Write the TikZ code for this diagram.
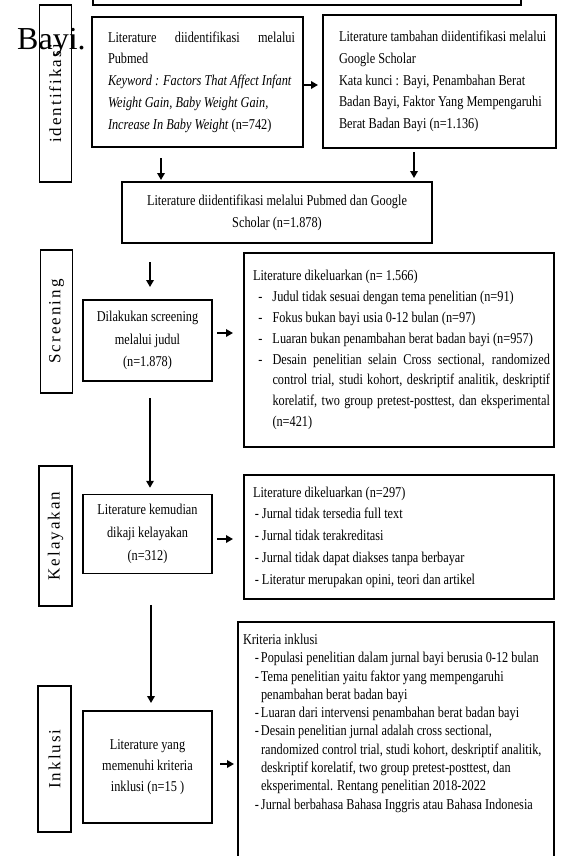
\documentclass[tikz,border=0pt]{standalone}
\usepackage{fontspec}
\setmainfont{Liberation Serif}
\newfontfamily\narrowfont{Liberation Serif}[FakeStretch=0.82]
\newfontfamily\tagfont{Liberation Serif}[LetterSpace=12]
\usetikzlibrary{arrows.meta}
\setlength\parindent{0pt}
\tolerance=10000
\hbadness=10000
\hyphenpenalty=10000
\exhyphenpenalty=10000
\newcommand\itm[3][2pt]{\par\hangindent=#2\hangafter=0\noindent\llap{-\hspace{#1}}#3\par}

\begin{document}
\begin{tikzpicture}[x=1pt,y=-1pt,
    box/.style={draw,line width=1.3pt,inner sep=0pt,outer sep=0pt,lead=21.5},
    lead/.style={font=\narrowfont\fontsize{15}{#1}\selectfont},
    tag/.style={draw,line width=1.3pt,inner sep=0pt,outer sep=0pt,rotate=90,
      font=\tagfont\fontsize{17}{20}\selectfont},
    lpad/.style={execute at begin node={\leftskip=#1\relax}},
    arr/.style={line width=2.2pt,-{Triangle[length=7pt,width=7.5pt]}}]
    \path[fill=white,use as bounding box] (0,0) rectangle (581,856);

    \path
    (307,-20) node[box,minimum width=428pt,minimum height=50pt] (Top) {}
    (55.2,93.5) node[tag,minimum width=177pt,minimum height=32pt] (TagId) {identifikasi}
    (56.5,321.5) node[tag,minimum width=143pt,minimum height=31.6pt] (TagScr) {Screening}
    (55.5,536) node[tag,minimum width=140pt,minimum height=33pt] (TagKel) {Kelayakan}
    (54.5,759) node[tag,minimum width=146pt,minimum height=33pt] (TagInk) {Inklusi}
    ;
    \node[font=\fontsize{32}{32}\selectfont,anchor=base west,inner sep=0pt] (Bayi) at (17,50) {Bayi.};

    \path
    (197.5,82) node[box,minimum width=211pt,minimum height=130pt,text width=195pt,
      align=justify,lpad=8pt,lead=21.7] (Pub)
    {Literature diidentifikasi melalui\linebreak Pubmed\newline
     \textit{Keyword : Factors That Affect Infant}\newline
     \textit{Weight Gain, Baby Weight Gain,}\newline
     \textit{Increase In Baby Weight} (n=742)}
    (439.5,81.5) node[box,minimum width=233pt,minimum height=133pt,text width=225pt,
      align=flush left,lpad=12pt,lead=21.7] (Sch)
    {Literature tambahan diidentifikasi melalui\\ Google Scholar\\
     Kata kunci : Bayi, Penambahan Berat\\ Badan Bayi, Faktor Yang Mempengaruhi\\
     Berat Badan Bayi (n=1.136)}
    (277,212.5) node[box,minimum width=310pt,minimum height=61pt,align=center,lead=22] (Comb)
    {Literature diidentifikasi melalui Pubmed dan Google\\ Scholar (n=1.878)}
    ;

    \path
    (147.5,340.5) node[box,minimum width=129pt,minimum height=81pt,align=center,lead=22.3] (Scr)
    {Dilakukan screening\\ melalui judul\\ (n=1.878)}
    (399,350) node[box,minimum width=310pt,minimum height=194pt,text width=302pt,
      align=justify,lpad=5pt,lead=20.8] (Exc1)
    {Literature dikeluarkan (n= 1.566)
     \itm[10pt]{19.5pt}{Judul tidak sesuai dengan tema penelitian (n=91)}
     \itm[10pt]{19.5pt}{Fokus bukan bayi usia 0-12 bulan (n=97)}
     \itm[10pt]{19.5pt}{Luaran bukan penambahan berat badan bayi (n=957)}
     \itm[10pt]{19.5pt}{Desain penelitian selain Cross sectional, randomized\linebreak
       control trial, studi kohort, deskriptif analitik, deskriptif\linebreak
       korelatif, two group pretest-posttest, dan eksperimental\linebreak (n=421)}}
    ;

    \path
    (147.5,534) node[box,minimum width=129pt,minimum height=78.5pt,align=center,lead=23] (Kel)
    {Literature kemudian\\ dikaji kelayakan\\ (n=312)}
    (399,537) node[box,minimum width=310pt,minimum height=124pt,text width=302pt,
      align=flush left,lpad=5pt,lead=21.7] (Exc2)
    {Literature dikeluarkan (n=297)
     \itm[3pt]{9pt}{Jurnal tidak tersedia full text}
     \itm[3pt]{9pt}{Jurnal tidak terakreditasi}
     \itm[3pt]{9pt}{Jurnal tidak dapat diakses tanpa berbayar}
     \itm[3pt]{9pt}{Literatur merupakan opini, teori dan artikel}}
    ;

    \path
    (147.5,767) node[box,minimum width=129pt,minimum height=112pt,align=center,lead=20.7] (Ink)
    {Literature yang\\ memenuhi kriteria\\ inklusi (n=15 )}
    (238,622) node[box,anchor=north west,minimum width=316pt,text width=306pt,
      inner xsep=5pt,inner ysep=12pt,align=flush left,lead=18.3] (Krit)
    {Kriteria inklusi
     \itm{18pt}{Populasi penelitian dalam jurnal bayi berusia 0-12 bulan}
     \itm{18pt}{Tema penelitian yaitu faktor yang mempengaruhi\newline
       penambahan berat badan bayi}
     \itm{18pt}{Luaran dari intervensi penambahan berat badan bayi}
     \itm{18pt}{Desain penelitian jurnal adalah cross sectional,\newline
       randomized control trial, studi kohort, deskriptif analitik,\newline
       deskriptif korelatif, two group pretest-posttest, dan\newline
       eksperimental. Rentang penelitian 2018-2022}
     \itm{18pt}{Jurnal berbahasa Bahasa Inggris atau Bahasa Indonesia\rule[-60pt]{0pt}{1pt}}}
    ;

    \draw[arr,shorten >=5pt] ([yshift=-3pt]Pub.east) -- ([yshift=-3pt]Pub.east -| Sch.west);
    \draw[arr,shorten <=11pt,shorten >=2pt] ([xshift=-36.5pt]Pub.south) -- ([xshift=-36.5pt]Pub.south |- Comb.north);
    \draw[arr,shorten <=4pt,shorten >=4pt] ([xshift=-25.5pt]Sch.south) -- ([xshift=-25.5pt]Sch.south |- Comb.north);
    \draw[arr,shorten <=19pt,shorten >=13pt] ([xshift=2.5pt]Scr.north |- Comb.south) -- ([xshift=2.5pt]Scr.north);
    \draw[arr,shorten <=5pt,shorten >=11pt] ([yshift=7.5pt]Scr.east) -- ([yshift=7.5pt]Scr.east -| Exc1.west);
    \draw[arr,shorten <=17pt,shorten >=7pt] ([xshift=2.5pt]Scr.south) -- ([xshift=2.5pt]Kel.north);
    \draw[arr,shorten <=5pt,shorten >=11pt] ([yshift=-5pt]Kel.east) -- ([yshift=-5pt]Kel.east -| Exc2.west);
    \draw[arr,shorten <=31.5pt,shorten >=8pt] ([xshift=3.5pt]Kel.south) -- ([xshift=3.5pt]Ink.north);
    \draw[arr,shorten <=8pt,shorten >=4pt] ([yshift=3pt]Ink.east) -- ([yshift=3pt]Ink.east -| Krit.west);
\end{tikzpicture}
\end{document}
